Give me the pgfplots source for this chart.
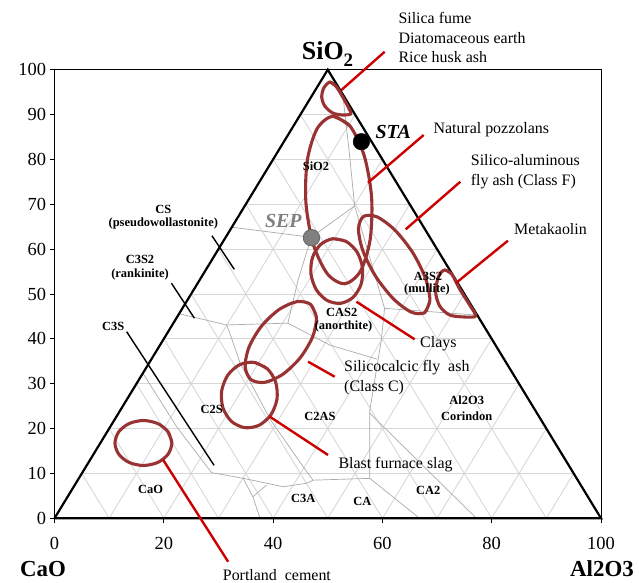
\documentclass[border=0pt]{standalone}
\usepackage{pgfplots}
\pgfplotsset{compat=1.18}
\usepackage{fontspec}
\setmainfont{Liberation Serif}
\definecolor{ellc}{RGB}{153,51,51}
\definecolor{callc}{RGB}{204,0,0}
\definecolor{gridc}{RGB}{215,215,215}
\definecolor{phasec}{RGB}{170,170,170}
\definecolor{sepc}{RGB}{128,128,128}
\begin{document}
\begin{tikzpicture}
\begin{axis}[
 at={(0,0)}, anchor=south west,
 width=546.5bp, height=448.6bp, scale only axis,
 xmin=0, xmax=100, ymin=0, ymax=100,
 xtick={0,20,40,60,80,100}, ytick={0,10,...,100},
 xtick pos=bottom, ytick pos=left, tick align=outside,
 major tick length=5bp,
 tick style={black, line width=0.8bp},
 axis line style={black, line width=0.9bp},
 ticklabel style={font=\fontsize{18.5}{18.5}\selectfont},
 xticklabel style={yshift=-10bp},
 /pgf/number format/assume math mode=true,
 clip=false,
 gl/.style={color=gridc, line width=0.9bp, forget plot},
 pl/.style={color=phasec, line width=0.7bp, forget plot},
 el/.style={color=ellc, line width=3.1bp, smooth, forget plot},
 cl/.style={color=callc, line width=2.4bp, forget plot},
 bl/.style={color=black, line width=1.4bp, forget plot},
]
% triangular grid
\addplot[gl] coordinates {(5,10) (95,10)};
\addplot[gl] coordinates {(10,20) (90,20)};
\addplot[gl] coordinates {(15,30) (85,30)};
\addplot[gl] coordinates {(20,40) (80,40)};
\addplot[gl] coordinates {(25,50) (75,50)};
\addplot[gl] coordinates {(30,60) (70,60)};
\addplot[gl] coordinates {(35,70) (65,70)};
\addplot[gl] coordinates {(40,80) (60,80)};
\addplot[gl] coordinates {(45,90) (55,90)};
\addplot[gl] coordinates {(10,0) (55,90)};
\addplot[gl] coordinates {(20,0) (60,80)};
\addplot[gl] coordinates {(30,0) (65,70)};
\addplot[gl] coordinates {(40,0) (70,60)};
\addplot[gl] coordinates {(50,0) (75,50)};
\addplot[gl] coordinates {(60,0) (80,40)};
\addplot[gl] coordinates {(70,0) (85,30)};
\addplot[gl] coordinates {(80,0) (90,20)};
\addplot[gl] coordinates {(90,0) (95,10)};
\addplot[gl] coordinates {(10,0) (5,10)};
\addplot[gl] coordinates {(20,0) (10,20)};
\addplot[gl] coordinates {(30,0) (15,30)};
\addplot[gl] coordinates {(40,0) (20,40)};
\addplot[gl] coordinates {(50,0) (25,50)};
\addplot[gl] coordinates {(60,0) (30,60)};
\addplot[gl] coordinates {(70,0) (35,70)};
\addplot[gl] coordinates {(80,0) (40,80)};
\addplot[gl] coordinates {(90,0) (45,90)};
% phase boundaries
\addplot[pl] coordinates {(32.4,64.9) (46.98,62.64) (54.92,69.64)};
\addplot[pl] coordinates {(54.92,69.64) (53.9,82) (52.75,94.5)};
\addplot[pl] coordinates {(54.92,69.64) (60.4,46.8) (77.3,45.3)};
\addplot[pl] coordinates {(46.98,62.64) (44.57,53.12) (42.7,43.5)};
\addplot[pl] coordinates {(22.8,45.6) (31.5,43.1) (42.7,43.5) (50.4,38.6) (59.0,35.5)};
\addplot[pl] coordinates {(31.5,43.1) (32.1,41.2) (34.0,34.5) (39.5,22.0) (45.5,11.5) (47.3,8.5)};
\addplot[pl] coordinates {(60.4,46.8) (59.8,39.7) (57.7,24.1) (57.7,8.9) (66.8,0)};
\addplot[pl] coordinates {(57.7,23.4) (77.2,0)};
\addplot[pl] coordinates {(57.7,8.9) (47.3,8.5)};
\addplot[pl] coordinates {(16.2,32.3) (22.34,20.42) (28.74,10.17) (34.52,8.92) (41.83,7.04) (46.11,7.8) (47.3,8.5)};
\addplot[pl] coordinates {(34.52,8.92) (36.3,4.8) (37.6,0)};
\addplot[pl] coordinates {(36.3,4.8) (38.8,7.4)};
% triangle
\addplot[black, line width=2.2bp, forget plot] coordinates {(0,0) (50,100) (100,0) (0,0)};
% label pointers
\addplot[bl] coordinates {(28.8,63.0) (32.9,55.5)};
\addplot[bl] coordinates {(21.4,52.4) (25.6,44.6)};
\addplot[bl] coordinates {(13.2,41.6) (29.2,11.8)};
% points
\addplot[only marks, mark=*, mark size=8.3bp, mark options={fill=sepc, draw=black!65, line width=0.6bp}, forget plot] coordinates {(47.02,62.55)};
\addplot[only marks, mark=*, mark size=8.3bp, mark options={fill=black, draw=black}, forget plot] coordinates {(56.16,83.95)};
% regions
\addplot[el] coordinates {(50.37,97.26) (51.46,96.37) (52.74,93.91) (54.02,91.02) (54.20,90.12) (52.74,89.90) (50.91,90.35) (49.45,91.91) (48.90,93.91) (49.27,95.92) (50.37,97.26) (51.46,96.37)};
\addplot[el] coordinates {(50.93,89.63) (54.09,87.41) (56.69,80.74) (58.03,71.47) (57.75,62.06) (55.96,55.04) (53.09,52.27) (49.93,54.50) (47.33,61.17) (46.00,70.44) (46.27,79.85) (48.06,86.87) (50.93,89.63) (54.09,87.41)};
\addplot[el] coordinates {(50.92,62.32) (53.38,61.71) (55.37,59.34) (56.36,55.83) (56.09,52.14) (54.63,49.25) (52.37,47.93) (49.91,48.54) (47.92,50.92) (46.93,54.42) (47.20,58.11) (48.66,61.00) (50.92,62.32) (53.38,61.71)};
\addplot[el] coordinates {(67.74,45.84) (68.69,48.59) (67.89,53.48) (65.56,59.20) (62.31,64.22) (59.02,67.19) (56.57,67.31) (55.62,64.56) (56.42,59.67) (58.76,53.95) (62.01,48.93) (65.29,45.96) (67.74,45.84) (68.69,48.59)};
\addplot[el] coordinates {(71.39,55.35) (72.67,54.46) (74.13,51.11) (75.96,47.55) (77.06,45.10) (75.05,44.87) (72.30,45.32) (70.48,47.33) (69.74,50.45) (70.29,54.01) (71.39,55.35) (72.67,54.46)};
\addplot[el] coordinates {(46.87,47.68) (47.93,44.82) (47.24,40.49) (44.99,35.83) (41.78,32.11) (38.47,30.31) (35.95,30.92) (34.89,33.78) (35.58,38.11) (37.83,42.77) (41.04,46.49) (44.35,48.29) (46.87,47.68) (47.93,44.82)};
\addplot[el] coordinates {(36.55,34.76) (38.96,33.32) (40.48,30.31) (40.71,26.55) (39.58,23.04) (37.40,20.72) (34.75,20.21) (32.34,21.65) (30.81,24.66) (30.59,28.42) (31.72,31.93) (33.90,34.25) (36.55,34.76) (38.96,33.32)};
\addplot[el] coordinates {(21.48,16.79) (20.78,19.29) (18.88,21.13) (16.27,21.80) (13.67,21.13) (11.76,19.29) (11.06,16.79) (11.76,14.28) (13.67,12.44) (16.27,11.77) (18.88,12.44) (20.78,14.28) (21.48,16.79) (20.78,19.29)};
% callouts
\addplot[cl] coordinates {(52.50,95.47) (60.42,104.0)};
\addplot[cl] coordinates {(57.37,74.81) (67.55,85.44)};
\addplot[cl] coordinates {(64.26,64.42) (74.26,75.03)};
\addplot[cl] coordinates {(73.40,52.39) (82.96,61.88)};
\addplot[cl] coordinates {(55.25,48.28) (65.90,39.90)};
\addplot[cl] coordinates {(46.40,34.91) (51.28,31.56)};
\addplot[cl] coordinates {(39.40,22.65) (50.05,14.11)};
\addplot[cl] coordinates {(19.89,13.00) (31.77,-9.67)};
\end{axis}
% annotation text
\begin{scope}[every node/.style={font=\fontsize{16}{16}\selectfont, anchor=base west, inner sep=0pt}]
\node at (343.8bp,495bp) {Silica fume};
\node at (343.8bp,475bp) {Diatomaceous earth};
\node at (343.8bp,456bp) {Rice husk ash};
\node at (378.8bp,385bp) {Natural pozzolans};
\node at (416.2bp,352.3bp) {Silico-aluminous};
\node at (416.2bp,333bp) {fly ash (Class F)};
\node at (459.5bp,284bp) {Metakaolin};
\node at (365.5bp,170.6bp) {Clays};
\node at (289.5bp,146.6bp) {Silicocalcic fly\ \ ash};
\node at (289.5bp,126.6bp) {(Class C)};
\node at (283.8bp,50bp) {Blast furnace slag};
\node at (168.2bp,-61.7bp) {Portland\ \ cement};
\end{scope}
\begin{scope}[every node/.style={font=\fontsize{12.5}{12.5}\selectfont\bfseries, anchor=center, inner sep=0pt}]
\node at (261.5bp,352.3bp) {SiO2};
\node at (108.8bp,309.3bp) {CS};
\node at (108.8bp,294.3bp) {(pseudowollastonite)};
\node at (85.5bp,259.3bp) {C3S2};
\node at (85.5bp,243.3bp) {(rankinite)};
\node at (58.8bp,192.3bp) {C3S};
\node at (157.2bp,109bp) {C2S};
\node at (265.5bp,101.6bp) {C2AS};
\node at (287.2bp,206bp) {CAS2};
\node at (289bp,191.6bp) {(anorthite)};
\node at (373.5bp,242.3bp) {A3S2};
\node at (372.5bp,228.3bp) {(mullite)};
\node at (412.2bp,118.3bp) {Al2O3};
\node at (412.2bp,102.3bp) {Corindon};
\node at (96.2bp,29bp) {CaO};
\node at (248.8bp,20bp) {C3A};
\node at (307.8bp,16.6bp) {CA};
\node at (373.8bp,27.6bp) {CA2};
\end{scope}
\node[font=\fontsize{20}{20}\selectfont\bfseries\itshape, text=sepc, anchor=center, inner sep=0pt] at (228.8bp,297.6bp) {SEP};
\node[font=\fontsize{20}{20}\selectfont\bfseries\itshape, anchor=center, inner sep=0pt] at (338.8bp,386.6bp) {STA};
\node[font=\fontsize{23}{23}\selectfont\bfseries, anchor=base west, inner sep=0pt] at (-34.5bp,-58.4bp) {CaO};
\node[font=\fontsize{23}{23}\selectfont\bfseries, anchor=base west, inner sep=0pt] at (515.5bp,-58.4bp) {Al2O3};
\node[font=\fontsize{26}{26}\selectfont\bfseries, anchor=base west, inner sep=0pt] at (247.2bp,458.3bp) {SiO\raisebox{-0.25em}{\fontsize{19}{19}\selectfont 2}};
\pgfresetboundingbox
\path[use as bounding box] (-54.5bp,-64.7bp) rectangle (584.5bp,518.3bp);
\end{tikzpicture}
\end{document}
